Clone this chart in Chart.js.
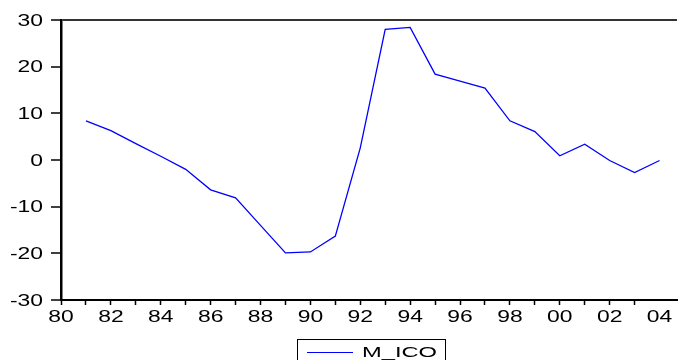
<!DOCTYPE html>
<html>
<head>
<meta charset="utf-8">
<style>
  html, body { margin: 0; padding: 0; background: #fff; }
  #wrap { width: 678px; height: 360px; }
</style>
<script src="https://cdn.jsdelivr.net/npm/chart.js@4/dist/chart.umd.min.js"></script>
</head>
<body>
<div id="wrap"><canvas id="c" width="678" height="360"></canvas></div>
<script>
// Annual series M_ICO, 1981-2004
const years = [1981, 1982, 1983, 1984, 1985, 1986, 1987, 1988, 1989, 1990, 1991, 1992,
               1993, 1994, 1995, 1996, 1997, 1998, 1999, 2000, 2001, 2002, 2003, 2004];
const mIco = [8.4, 6.3, 3.5, 0.8, -2.0, -6.4, -8.1, -14.0, -19.9, -19.7, -16.3, 2.6,
              28.0, 28.4, 18.4, 16.9, 15.4, 8.4, 6.1, 0.9, 3.4, -0.1, -2.7, -0.1];
const seriesName = 'M_ICO';

// Axis range and labels
const xMin = 1980, xMax = 2004.7;
const xTickYears = [1980, 1982, 1984, 1986, 1988, 1990, 1992, 1994, 1996, 1998, 2000, 2002, 2004];
const xTickLabels = ['80', '82', '84', '86', '88', '90', '92', '94', '96', '98', '00', '02', '04'];
const yTicks = [-30, -20, -10, 0, 10, 20, 30];
const yTickLabels = ['-30', '-20', '-10', '0', '10', '20', '30'];

const FONT = '"Liberation Sans", Arial, sans-serif';
const STRETCH = 1.43;

// Wide (horizontally stretched) labels drawn at the scale positions
const wideLabels = {
  id: 'wideLabels',
  afterDraw(chart) {
    const ctx = chart.ctx;
    const xs = chart.scales.x, ys = chart.scales.y;
    ctx.save();
    ctx.fillStyle = '#000';
    ctx.font = '16px ' + FONT;

    ctx.textAlign = 'right';
    ctx.textBaseline = 'alphabetic';
    yTicks.forEach((v, i) => {
      const py = ys.getPixelForValue(v);
      ctx.save();
      ctx.translate(43, py + 5.8);
      ctx.scale(STRETCH, 1);
      ctx.fillText(yTickLabels[i], 0, 0);
      ctx.restore();
    });

    ctx.textAlign = 'center';
    xTickYears.forEach((v, i) => {
      const px = xs.getPixelForValue(v);
      ctx.save();
      ctx.translate(px, 322);
      ctx.scale(STRETCH, 1);
      ctx.fillText(xTickLabels[i], 0, 0);
      ctx.restore();
    });

    // legend box
    ctx.strokeStyle = '#000';
    ctx.lineWidth = 1;
    ctx.strokeRect(297.5, 339.5, 148, 40);
    ctx.strokeStyle = chart.data.datasets[0].borderColor;
    ctx.beginPath();
    ctx.moveTo(307, 352.5);
    ctx.lineTo(353, 352.5);
    ctx.stroke();
    ctx.font = '15px ' + FONT;
    ctx.textAlign = 'left';
    const w = ctx.measureText(seriesName).width;
    ctx.save();
    ctx.translate(362, 356.7);
    ctx.scale(75 / w, 1);
    ctx.fillText(seriesName, 0, 0);
    ctx.restore();
    ctx.restore();
  }
};

new Chart(document.getElementById('c'), {
  type: 'line',
  data: {
    datasets: [{
      label: seriesName,
      data: years.map((y, i) => ({ x: y, y: mIco[i] })),
      borderColor: '#0000ff',
      borderWidth: 1.3,
      pointRadius: 0,
      tension: 0,
      fill: false
    }]
  },
  options: {
    responsive: false,
    animation: false,
    events: [],
    layout: { padding: { top: 20, right: 1, left: 0, bottom: 0 } },
    plugins: { legend: { display: false }, tooltip: { enabled: false } },
    scales: {
      x: {
        type: 'linear',
        min: xMin,
        max: xMax,
        ticks: { display: false, stepSize: 1 },
        afterBuildTicks(scale) {
          scale.ticks = scale.ticks.filter(t => Number.isInteger(t.value) && t.value <= 2004);
        },
        afterFit(scale) { scale.height = 60; },
        grid: {
          drawOnChartArea: false,
          drawTicks: true,
          tickLength: 5,
          tickColor: '#000',
          tickWidth: 1.5
        },
        border: { display: true, color: '#000', width: 2 }
      },
      y: {
        type: 'linear',
        min: -30,
        max: 30,
        ticks: { display: false, stepSize: 10 },
        afterFit(scale) { scale.width = 61; },
        grid: {
          drawOnChartArea: true,
          drawTicks: true,
          tickLength: 10,
          tickColor: '#000',
          tickWidth: 1.5,
          color: c => (c.tick && c.tick.value === 30) ? '#333' : 'rgba(0,0,0,0)',
          lineWidth: 2
        },
        border: { display: true, color: '#000', width: 2.5 }
      }
    }
  },
  plugins: [wideLabels]
});
</script>
</body>
</html>
